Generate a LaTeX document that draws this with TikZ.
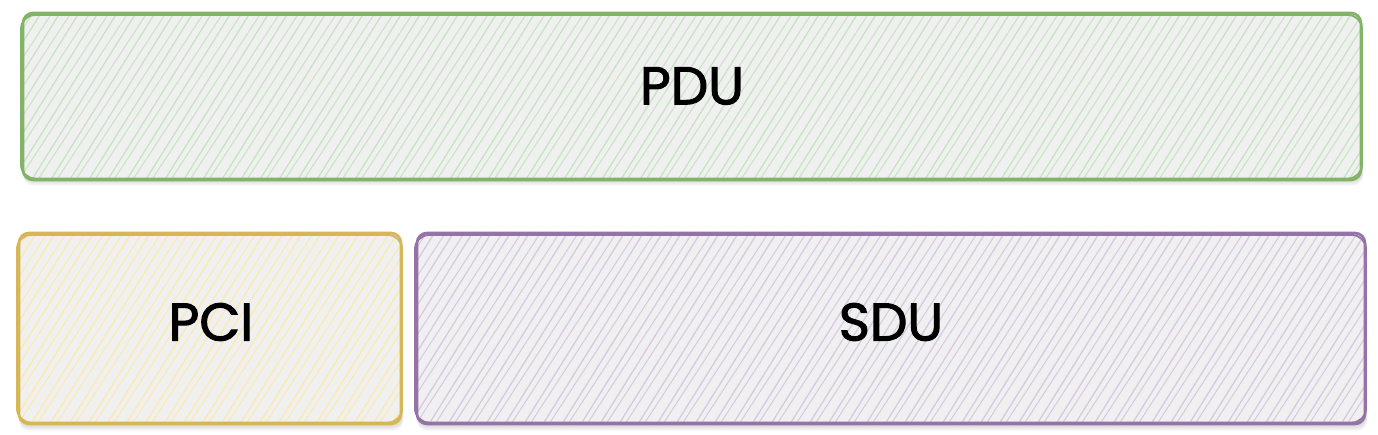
\documentclass[tikz,border=0pt]{standalone}
\usepackage{fontspec}
\setmainfont{Poppins}
\newfontfamily\handfont{Poppins}[FakeBold=2]
\definecolor{gstroke}{HTML}{82B366}
\definecolor{gfill}{HTML}{C6E4C2}
\definecolor{ystroke}{HTML}{D6B656}
\definecolor{yfill}{HTML}{FCE9AE}
\definecolor{pstroke}{HTML}{9673A6}
\definecolor{pfill}{HTML}{D9C8E3}
\definecolor{bgin}{HTML}{F0F0F0}
\newcommand{\myhatch}[5]{%
 \begin{scope}
 \clip[rounded corners=10] (#1,#2) rectangle (#3,#4);
 \fill[bgin] (#1,#2) rectangle (#3,#4);
 \pgfmathsetmacro{\hh}{(#4-#2)/1.6}
 \pgfmathsetmacro{\xs}{#1-\hh}
 \pgfmathsetmacro{\xn}{\xs+19}
 \foreach \x in {\xs,\xn,...,#3} {\draw[#5, line width=1.3] (\x,#4) -- ++(\hh,{#2-#4});
   \draw[#5, line width=1.0] ({\x+6},#4) -- ++({\hh+5},{#2-#4});}
 \end{scope}}
\newcommand{\myshadow}[4]{%
 \foreach \k in {1,...,5} {\fill[black, opacity=0.025, rounded corners=10] ({#1+1},{#2+2+\k}) rectangle ({#3+1},{#4+1+\k});}}
\newcommand{\mystroke}[5]{%
 \draw[#5, line width=2.6, rounded corners=10] (#1,#2) rectangle (#3,#4);
 \draw[#5, line width=1.9, rounded corners=14] ({#1-2},{#2+2}) rectangle ({#3+1},{#4-1.5});}
\tikzset{lbl/.style={font=\handfont\fontsize{53}{56}\selectfont, text=black, inner sep=0}}
\begin{document}
\begin{tikzpicture}[x=1pt,y=-1pt]
\useasboundingbox[fill=white] (0,0) rectangle (1378,435);
% PDU
\myshadow{22}{13}{1362}{180}
\myhatch{22}{13}{1362}{180}{gfill}
\mystroke{23}{13}{1361}{180}{gstroke}
% PCI
\myshadow{18}{232}{402}{425}
\myhatch{18}{232}{402}{425}{yfill}
\mystroke{19}{233}{401}{424}{ystroke}
% SDU
\myshadow{416}{232}{1366}{425}
\myhatch{416}{232}{1366}{425}{pfill}
\mystroke{417}{233}{1365}{424}{pstroke}
\node[lbl] (pdu) at (692,86) {PDU};
\node[lbl] (pci) at (211,322) {PCI};
\node[lbl] (sdu) at (891,322) {SDU};
\end{tikzpicture}
\end{document}
